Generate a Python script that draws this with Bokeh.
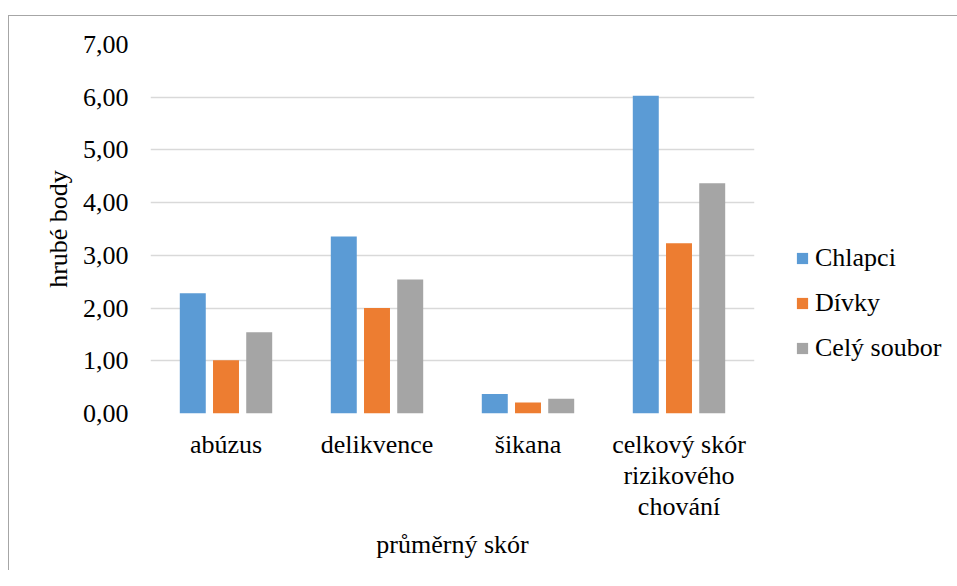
from bokeh.plotting import figure
from bokeh.models import FactorRange, Range1d, FixedTicker, Legend, LegendItem, ColumnDataSource
from bokeh.transform import dodge
from bokeh.embed import file_html
from bokeh.resources import INLINE

categories = ["abúzus", "delikvence", "šikana", "celkový skór\nrizikového\nchování"]
chlapci = [2.28, 3.36, 0.37, 6.03]
divky = [1.01, 2.00, 0.21, 3.23]
cely = [1.54, 2.54, 0.28, 4.37]
series_names = ["Chlapci", "Dívky", "Celý soubor"]
y_ticks = [0, 1, 2, 3, 4, 5, 6, 7]
y_tick_labels = ["0,00", "1,00", "2,00", "3,00", "4,00", "5,00", "6,00", "7,00"]
x_title = "průměrný skór"
y_title = "hrubé body"

colors = ["#5B9BD5", "#ED7D31", "#A5A5A5"]
FONT = "Liberation Serif"

src = ColumnDataSource(dict(cat=categories, c=chlapci, d=divky, s=cely))

p = figure(x_range=FactorRange(*categories), y_range=Range1d(0, 7),
           frame_width=604, frame_height=369,
           min_border_left=150, min_border_right=187, min_border_top=44, min_border_bottom=157,
           output_backend="svg", toolbar_location=None)
p.border_fill_alpha = 0
p.background_fill_alpha = 0
p.styles = {
    "background": "linear-gradient(#a6a6a6,#a6a6a6) 8px 15px / 100% 1px no-repeat, "
                  "linear-gradient(#a6a6a6,#a6a6a6) 8px 15px / 1px 100% no-repeat"
}

offsets = [-0.22, 0.0, 0.22]
fields = ["c", "d", "s"]
renderers = []
for f, off, col in zip(fields, offsets, colors):
    r = p.vbar(x=dodge("cat", off, range=p.x_range), top=f, width=0.172, bottom=0,
               source=src, fill_color=col, line_color=None)
    renderers.append(r)

p.outline_line_color = None
p.xgrid.visible = False
p.ygrid.grid_line_color = "#d9d9d9"
p.ygrid.grid_line_width = 1.5

p.yaxis.ticker = FixedTicker(ticks=y_ticks)
p.yaxis.major_label_overrides = {t: l for t, l in zip(y_ticks, y_tick_labels)}
for ax in (p.xaxis[0], p.yaxis[0]):
    ax.axis_line_color = None
    ax.major_tick_line_color = None
    ax.minor_tick_line_color = None
    ax.major_tick_out = 0
    ax.major_tick_in = 0
    ax.major_label_text_font = FONT
    ax.major_label_text_font_size = "26px"
    ax.major_label_text_color = "#000000"
    ax.axis_label_text_font = FONT
    ax.axis_label_text_font_size = "26px"
    ax.axis_label_text_font_style = "normal"
    ax.axis_label_text_color = "#000000"

p.xaxis.major_label_text_line_height = 1.075
p.yaxis.major_label_standoff = 22
p.xaxis.major_label_standoff = 16
p.yaxis.axis_label = y_title
p.xaxis.axis_label = x_title
p.yaxis.axis_label_standoff = 7
p.xaxis.axis_label_standoff = 6

legend = Legend(items=[LegendItem(label=n, renderers=[r]) for n, r in zip(series_names, renderers)],
                location=(41, 50))
legend.glyph_width = 14
legend.glyph_height = 14
legend.label_height = 30
legend.spacing = 15
legend.padding = 0
legend.margin = 0
legend.label_standoff = 6
legend.label_text_font = FONT
legend.label_text_font_size = "26px"
legend.label_text_color = "#000000"
legend.border_line_color = None
legend.background_fill_alpha = 0
p.add_layout(legend, "right")

open("out.html", "w").write(file_html(p, INLINE))
